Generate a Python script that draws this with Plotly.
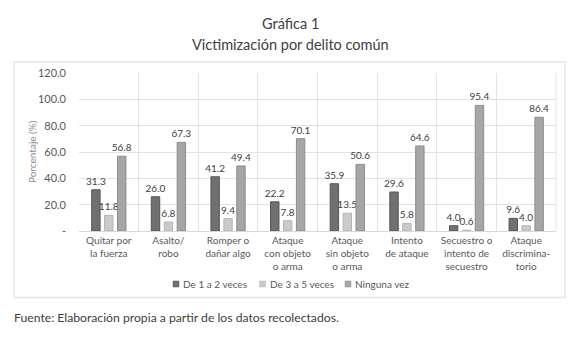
import plotly.graph_objects as go

categories = ["Quitar por<br>la fuerza", "Asalto/<br>robo", "Romper o<br>dañar algo",
              "Ataque<br>con objeto<br>o arma", "Ataque<br>sin objeto<br>o arma",
              "Intento<br>de ataque", "Secuestro o<br>intento de<br>secuestro",
              "Ataque<br>discrimina-<br>torio"]
series_names = ["De 1 a 2 veces", "De 3 a 5 veces", "Ninguna vez"]
s1 = [31.3, 26.0, 41.2, 22.2, 35.9, 29.6, 4.0, 9.6]
s2 = [11.8, 6.8, 9.4, 7.8, 13.5, 5.8, 0.6, 4.0]
s3 = [56.8, 67.3, 49.4, 70.1, 50.6, 64.6, 95.4, 86.4]
y_ticks = [0, 20, 40, 60, 80, 100, 120]
y_tick_labels = ["-", "20.0", "40.0", "60.0", "80.0", "100.0", "120.0"]

fills = ["#707070", "#cacaca", "#a6a6a6"]
lines = ["#555555", "#b5b5b5", "#8c8c8c"]

font_main = "Lato, 'Open Sans', sans-serif"

fig = go.Figure()
for name, vals, fc, lc in zip(series_names, [s1, s2, s3], fills, lines):
    fig.add_trace(go.Bar(
        x=categories, y=vals, name=name, showlegend=False,
        marker=dict(color=fc, line=dict(color=lc, width=1)),
        text=[f"{v:.1f}" for v in vals], textposition="outside",
        constraintext="none",
        textfont=dict(size=10, color="#404040", family=font_main),
        cliponaxis=False,
    ))

# invisible helper axis for category-boundary gridlines
fig.add_trace(go.Scatter(x=[None], y=[None], xaxis="x2", showlegend=False, hoverinfo="skip"))

L, R, T, B = 79, 24, 73, 120
W, H = 580, 351
pw, ph = W - L - R, H - T - B

def px(x):
    return (x - L) / pw

def py(y):
    return (H - B - y) / ph

shapes = [dict(type="rect", xref="paper", yref="paper", x0=px(14), x1=px(565),
               y0=py(297.5), y1=py(62), line=dict(color="#e6e6e6", width=1.5), layer="below"),
          dict(type="line", xref="paper", yref="paper", x0=1, x1=1, y0=0, y1=1,
               line=dict(color="#e3e3e3", width=1), layer="below")]

annotations = [
    dict(text="Gráfica 1", xref="paper", yref="paper", x=px(290), y=py(23), yanchor="middle",
         showarrow=False, font=dict(size=14.5, color="#404040", family=font_main)),
    dict(text="Victimización por delito común", xref="paper", yref="paper", x=px(290), y=py(45),
         yanchor="middle", showarrow=False, font=dict(size=14.5, color="#404040", family=font_main)),
    dict(text="Fuente: Elaboración propia a partir de los datos recolectados.", xref="paper", yref="paper",
         x=px(12), y=py(317), xanchor="left", yanchor="middle", showarrow=False,
         font=dict(size=12.2, color="#404040", family=font_main)),
    dict(text="Porcentaje (%)", xref="paper", yref="paper", x=px(32), y=py(152), textangle=-90,
         xanchor="center", yanchor="middle", showarrow=False,
         font=dict(size=10, color="#8c8c8c", family=font_main)),
]

# legend (swatch + label), laid out like the original
legend_x = [173, 259.5, 345]
for name, fc, lc, lx in zip(series_names, fills, lines, legend_x):
    shapes.append(dict(type="rect", xref="paper", yref="paper", x0=px(lx), x1=px(lx + 6),
                       y0=py(287), y1=py(281), fillcolor=fc, line=dict(color=lc, width=0.5)))
    annotations.append(dict(text=name, xref="paper", yref="paper", x=px(lx + 8), y=py(284),
                            xanchor="left", yanchor="middle", showarrow=False,
                            font=dict(size=10, color="#595959", family=font_main)))

fig.update_layout(
    width=W, height=H,
    margin=dict(l=L, r=R, t=T, b=B),
    paper_bgcolor="white", plot_bgcolor="white",
    barmode="group", bargap=0.35, bargroupgap=0.35,
    font=dict(family=font_main, color="#595959", size=11),
    showlegend=False,
    xaxis=dict(showgrid=False, showline=True, linecolor="#d9d9d9", ticks="",
               tickfont=dict(size=10, color="#595959"), fixedrange=True),
    xaxis2=dict(overlaying="x", range=[-0.5, 7.5], tick0=0.5, dtick=1, showgrid=True,
                gridcolor="#e3e3e3", showticklabels=False, zeroline=False, side="bottom"),
    yaxis=dict(range=[0, 120], tickvals=y_ticks, ticktext=y_tick_labels,
               showgrid=True, gridcolor="#e3e3e3", zeroline=False, showline=False,
               tickfont=dict(size=11, color="#595959"), ticks="", ticklabelstandoff=12),
    shapes=shapes,
    annotations=annotations,
)

fig.write_html("out.html")
